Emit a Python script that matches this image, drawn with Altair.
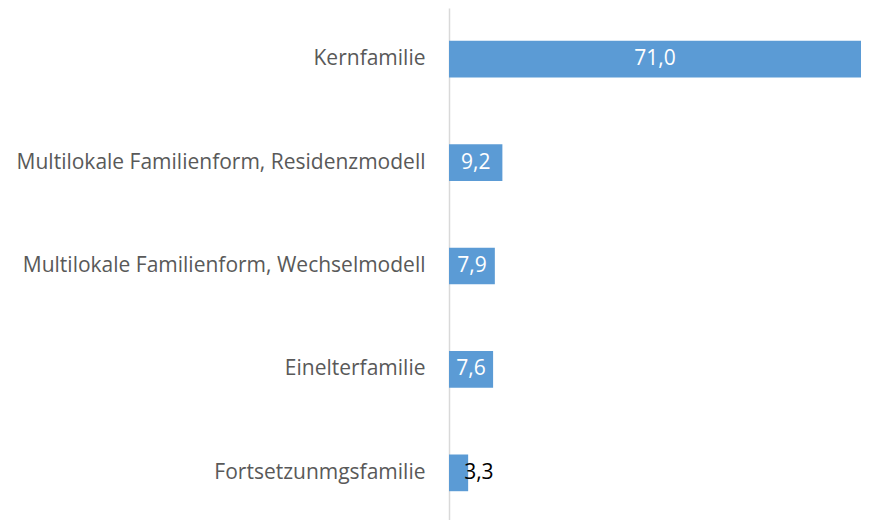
import altair as alt
import pandas as pd

categories = [
    "Kernfamilie",
    "Multilokale Familienform, Residenzmodell",
    "Multilokale Familienform, Wechselmodell",
    "Einelterfamilie",
    "Fortsetzunmgsfamilie",
]
values = [71.0, 9.2, 7.9, 7.6, 3.3]
value_labels = ["71,0", "9,2", "7,9", "7,6", "3,3"]
label_inside = [True, True, True, True, False]

df = pd.DataFrame({
    "cat": categories,
    "value": values,
    "label": value_labels,
    "inside": label_inside,
})

FONT = "Open Sans"

y_enc = alt.Y(
    "cat:N",
    sort=categories,
    scale=alt.Scale(paddingInner=0.645, paddingOuter=0.317, range=[0, 516]),
    axis=alt.Axis(
        title=None,
        ticks=False,
        labelFontSize=21,
        labelFont=FONT,
        labelColor="#595959",
        labelPadding=24,
        labelLimit=0,
        domainColor="#D9D9D9",
        domainWidth=1.5,
        grid=False,
    ),
)

base = alt.Chart(df)

bars = base.mark_bar(color="#5B9BD5").encode(
    y=y_enc,
    x=alt.X("value:Q", scale=alt.Scale(domain=[0, 71], nice=False), axis=None),
)

inside_text = base.transform_filter("datum.inside").transform_calculate(
    mid="datum.value / 2"
).mark_text(color="#FFFFFF", fontSize=21, font=FONT, baseline="middle").encode(
    y=alt.Y("cat:N", sort=categories),
    x=alt.X("mid:Q"),
    text="label:N",
)

outside_text = base.transform_filter("!datum.inside").mark_text(
    color="#000000", fontSize=21, font=FONT, baseline="middle", align="left", dx=-4
).encode(
    y=alt.Y("cat:N", sort=categories),
    x=alt.X("value:Q"),
    text="label:N",
)

chart = alt.layer(bars, inside_text, outside_text).properties(
    width=412,
    height=512,
    autosize=alt.AutoSizeParams(type="none"),
    padding={"left": 441, "top": 0, "right": 0, "bottom": 0},
).configure_view(stroke=None)

chart.save("out.html", embed_options={"renderer": "svg", "actions": False})
